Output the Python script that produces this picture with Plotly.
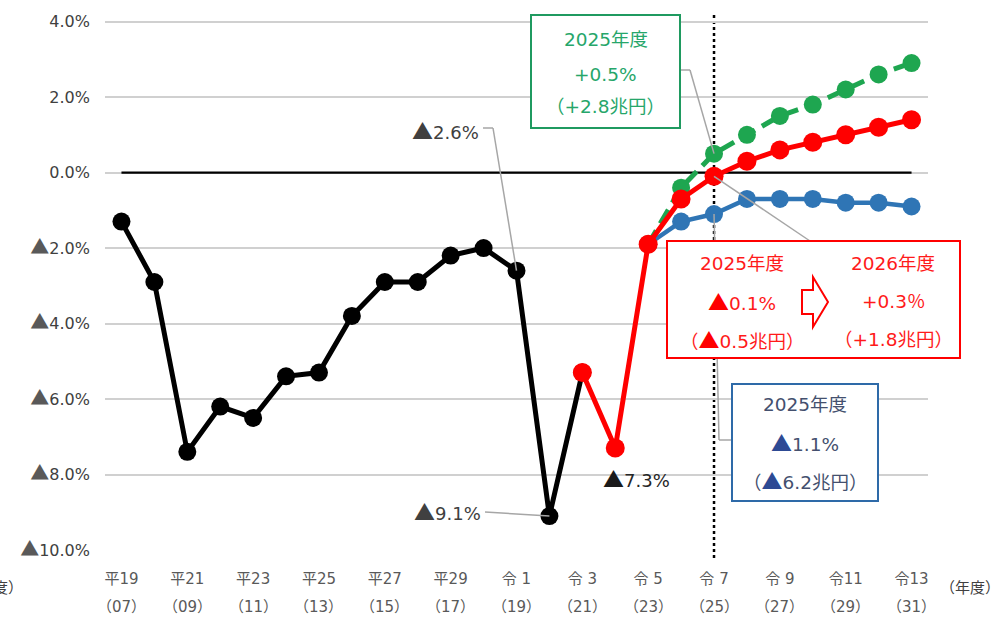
import plotly.graph_objects as go

# ---------------- data ----------------
years = list(range(2007, 2032))
actual = [-1.3, -2.9, -7.4, -6.2, -6.5, -5.4, -5.3, -3.8, -2.9, -2.9, -2.2, -2.0, -2.6, -9.1, -5.3] + [None] * 10
base_case = [None] * 14 + [-5.3, -7.3, -1.9, -0.7, -0.1, 0.3, 0.6, 0.8, 1.0, 1.2, 1.4]
growth_case = [None] * 16 + [-1.9, -0.4, 0.5, 1.0, 1.5, 1.8, 2.2, 2.6, 2.9]
past_trend = [None] * 16 + [-1.9, -1.3, -1.1, -0.7, -0.7, -0.7, -0.8, -0.8, -0.9]

tick_years = list(range(2007, 2032, 2))
tick_era = ["平19", "平21", "平23", "平25", "平27", "平29", "令 1", "令 3", "令 5", "令 7", "令 9", "令11", "令13"]
tick_ad = ["（07）", "（09）", "（11）", "（13）", "（15）", "（17）", "（19）", "（21）", "（23）", "（25）", "（27）", "（29）", "（31）"]

y_tickvals = [4, 2, 0, -2, -4, -6, -8, -10]
current_year = 2025
label_years = [2019, 2020, 2022]
label_texts = ["2.6%", "9.1%", "7.3%"]

green_box = ["2025年度", "+0.5%", "（+2.8兆円）"]
red_box_left = ["2025年度", "▲0.1%", "（▲0.5兆円）"]
red_box_right = ["2026年度", "+0.3％", "（+1.8兆円）"]
blue_box = ["2025年度", "▲1.1%", "（▲6.2兆円）"]

# ---------------- layout helpers (pixel -> coords) ----------------
L, R, T, B = 105, 71, 14, 71
W, H = 999, 621
PW, PH = W - L - R, H - T - B
XMIN, XMAX = 2006.5, 2031.5
YMIN, YMAX = -10, 4.2


def xp(px):
    return (px - L) / PW


def yp(py):
    return (H - B - py) / PH


def px2x(px):
    return XMIN + (px - L) / PW * (XMAX - XMIN)


def py2y(py):
    return YMAX - (py - T) / PH * (YMAX - YMIN)


FONT = "DejaVu Sans, Noto Sans CJK JP"


def tri(color=None, size=None):
    st = "font-family:'Noto Sans CJK JP'"
    if color:
        st += ";color:" + color
    if size:
        st += ";font-size:%dpx" % size
    return '<span style="%s">▲</span>' % st


def fmt_tri(s, color=None, size=None):
    return s.replace("▲", tri(color, size))


def y_label(v):
    if v < 0:
        return tri("#595959", 19) + "%.1f%%" % (-v)
    return "%.1f%%" % v


fig = go.Figure()

BLACK = "#000000"
RED = "#ff0000"
GREEN = "#1ea650"
BLUE = "#2f75b5"

fig.add_trace(go.Scatter(x=years, y=actual, mode="lines+markers",
                         line=dict(color=BLACK, width=5),
                         marker=dict(size=18, color=BLACK), connectgaps=False,
                         hoverinfo="skip", showlegend=False))
fig.add_trace(go.Scatter(x=years, y=past_trend, mode="lines+markers",
                         line=dict(color=BLUE, width=4.5),
                         marker=dict(size=18, color=BLUE), hoverinfo="skip", showlegend=False))
fig.add_trace(go.Scatter(x=years, y=growth_case, mode="lines+markers",
                         line=dict(color=GREEN, width=5, dash="16px,8px"),
                         marker=dict(size=18, color=GREEN), hoverinfo="skip", showlegend=False))
fig.add_trace(go.Scatter(x=years, y=base_case, mode="lines+markers",
                         line=dict(color=RED, width=5),
                         marker=dict(size=19, color=RED), hoverinfo="skip", showlegend=False))

shapes = []
# zero line (black) spanning the data range
shapes.append(dict(type="line", xref="x", yref="y", x0=years[0], x1=years[-1], y0=0, y1=0,
                   line=dict(color="black", width=2.2), layer="between"))
# vertical dotted line at current year
shapes.append(dict(type="line", xref="x", yref="paper", x0=current_year, x1=current_year,
                   y0=yp(558), y1=yp(15), line=dict(color="black", width=2.5, dash="dot"),
                   layer="between"))

LEADER = dict(color="#a6a6a6", width=1.5)


def val(series, yr):
    return series[years.index(yr)]


# leader for 2.6%
shapes.append(dict(type="line", xref="x", yref="y", x0=px2x(483), x1=px2x(493), y0=py2y(128), y1=py2y(128), line=LEADER))
shapes.append(dict(type="line", xref="x", yref="y", x0=px2x(493), y0=py2y(128),
                   x1=label_years[0], y1=val(actual, label_years[0]), line=LEADER))
# leader for 9.1%
shapes.append(dict(type="line", xref="x", yref="y", x0=px2x(485), y0=py2y(512),
                   x1=label_years[1], y1=val(actual, label_years[1]), line=LEADER))
# green leader
shapes.append(dict(type="line", xref="x", yref="y", x0=px2x(681), x1=px2x(690), y0=py2y(70), y1=py2y(70), line=LEADER))
shapes.append(dict(type="line", xref="x", yref="y", x0=px2x(690), y0=py2y(70),
                   x1=current_year, y1=val(growth_case, current_year), line=LEADER))
# red leader
shapes.append(dict(type="line", xref="x", yref="y", x0=px2x(810), y0=py2y(241),
                   x1=current_year, y1=val(base_case, current_year), line=LEADER))
# blue leader
shapes.append(dict(type="line", xref="x", yref="y", x0=current_year, y0=val(past_trend, current_year),
                   x1=px2x(719), y1=py2y(440), line=LEADER))
shapes.append(dict(type="line", xref="x", yref="y", x0=px2x(719), y0=py2y(440),
                   x1=px2x(732), y1=py2y(440), line=LEADER))


# boxes
def rect(x0, y0, x1, y1, color):
    return dict(type="rect", xref="paper", yref="paper", x0=xp(x0), x1=xp(x1), y0=yp(y1), y1=yp(y0),
                line=dict(color=color, width=2), fillcolor="white", layer="above")


GREEN_BOX = "#1f9a60"
GREEN_TXT = "#26a66a"
RED_TXT = "#ff1a1a"
BLUE_BOX = "#2e6aa8"
BLUE_TXT = "#44506e"
BLUE_TRI = "#2d4a94"

shapes.append(rect(531, 15, 680, 128, GREEN_BOX))
shapes.append(rect(667, 241, 960, 358, RED))
shapes.append(rect(732, 384, 878, 501, BLUE_BOX))

# hollow arrow in red box
pts = [(802, 290), (813, 290), (813, 277), (828, 302), (813, 327), (813, 314), (802, 314)]
path = "M " + " L ".join("%.5f,%.5f" % (xp(a), yp(b)) for a, b in pts) + " Z"
shapes.append(dict(type="path", xref="paper", yref="paper", path=path,
                   line=dict(color=RED, width=2), fillcolor="white", layer="above"))

annotations = []


def add_text(px, py, text, size, color, xanchor="center"):
    annotations.append(dict(xref="paper", yref="paper", x=xp(px), y=yp(py), text=text,
                            showarrow=False, xanchor=xanchor, yanchor="middle",
                            font=dict(family=FONT, size=size, color=color)))


# point labels
add_text(445, 130, tri("#404040", 21) + label_texts[0], 18, "#404040")
add_text(447, 511, tri("#404040", 21) + label_texts[1], 18, "#404040")
add_text(636, 478, tri("#1a1a1a", 21) + label_texts[2], 18, "#262626")

# green box text
for t, py in zip(green_box, [40, 74, 107]):
    add_text(605.5, py, fmt_tri(t, GREEN_TXT, 21), 18.5, GREEN_TXT)
# red box text
for t, py in zip(red_box_left, [263, 301, 339]):
    add_text(742, py, fmt_tri(t, RED, 21), 18.5, RED_TXT)
for t, py in zip(red_box_right, [263, 301, 339]):
    add_text(893, py, fmt_tri(t, RED, 21), 18.5, RED_TXT)
# blue box text
for t, py in zip(blue_box, [404, 442, 480]):
    add_text(805, py, fmt_tri(t, BLUE_TRI, 21), 18.5, BLUE_TXT)

# second row of x tick labels
for yr, t in zip(tick_years, tick_ad):
    annotations.append(dict(xref="x", yref="paper", x=yr, y=yp(607), text=t, showarrow=False,
                            xanchor="center", yanchor="middle",
                            font=dict(family=FONT, size=15, color="#595959")))
# axis unit labels
add_text(970, 588, "（年度）", 15, "#404040")
add_text(25, 588, "（年度）", 15, "#404040", xanchor="right")

fig.update_layout(
    width=W, height=H,
    margin=dict(l=L, r=R, t=T, b=B),
    paper_bgcolor="white", plot_bgcolor="white",
    showlegend=False,
    shapes=shapes,
    annotations=annotations,
    font=dict(family=FONT),
)
fig.update_xaxes(range=[XMIN, XMAX], tickvals=tick_years, ticktext=tick_era,
                 showgrid=False, zeroline=False, showline=False, ticks="",
                 ticklabelstandoff=18,
                 tickfont=dict(family=FONT, size=15, color="#595959"))
fig.update_yaxes(range=[YMIN, YMAX], tickvals=y_tickvals, ticktext=[y_label(v) for v in y_tickvals],
                 showgrid=True, gridcolor="#d0d0d0", gridwidth=1.5, zeroline=False, showline=False,
                 ticks="", ticklabelstandoff=14,
                 tickfont=dict(family=FONT, size=16, color="#404040"))

fig.write_html("out.html", config={"displayModeBar": False},
               post_script="document.body.style.margin='0';document.body.style.padding='0';")
